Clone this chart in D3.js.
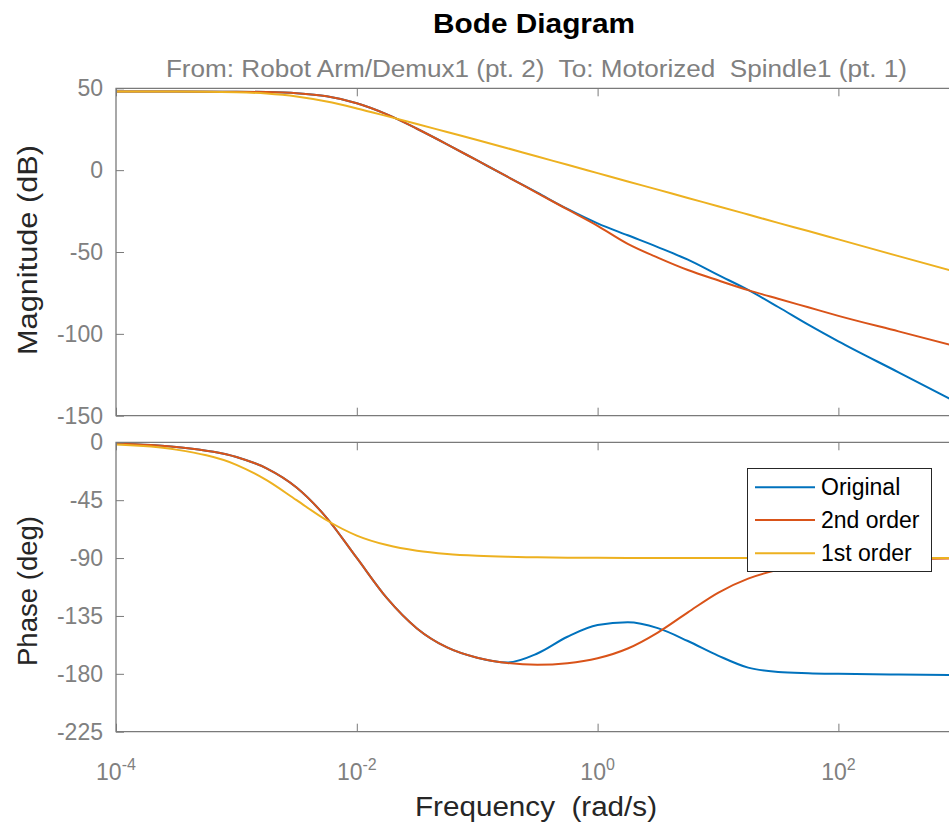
<!DOCTYPE html>
<html>
<head>
<meta charset="utf-8">
<script src="https://cdn.jsdelivr.net/npm/d3@7"></script>
<style>
  html, body { margin: 0; padding: 0; background: #fff; }
  text { font-family: "Liberation Sans", Arial, Helvetica, sans-serif; }
</style>
</head>
<body>
<script>
// ---------------- data ----------------
const frequencies = [1e-4, 3.16e-4, 1e-3, 1.78e-3, 3.16e-3, 5.62e-3, 0.01, 0.0178, 0.0316, 0.0562,
  0.1, 0.178, 0.316, 0.562, 1, 1.78, 3.16, 5.62, 10, 17.8, 31.6, 56.2, 100, 316, 1000];

const seriesNames = ["Original", "2nd order", "1st order"];
const seriesColors = ["#0072BD", "#D95319", "#EDB120"];

const magOriginal = [48.0, 48.0, 47.9, 47.7, 47.0, 45.1, 40.9, 34.1, 25.3, 15.8, 5.9, -4.0, -13.8,
  -23.7, -32.5, -39.8, -47.0, -54.7, -64.0, -73.2, -83.6, -94.4, -104.6, -123.5, -142.5];
const mag2nd = [48.0, 48.0, 47.9, 47.7, 47.0, 45.1, 40.9, 34.1, 25.3, 15.8, 5.9, -4.0, -14.0,
  -24.0, -34.0, -45.0, -53.4, -61.0, -67.3, -73.3, -78.6, -83.8, -89.0, -98.5, -108.0];
const mag1st = [48.0, 48.0, 47.6, 46.8, 45.0, 41.9, 37.7, 33.0, 28.2, 23.3, 18.4, 13.4, 8.3,
  3.3, -1.8, -6.9, -11.9, -17.0, -22.0, -27.1, -32.2, -37.2, -42.3, -52.5, -62.6];

const phaseOriginal = [-1.1, -3.6, -11.4, -20.2, -35.1, -58.7, -89.9, -121.2, -144.7, -159.5, -167.5,
  -171.2, -164.2, -151.2, -142.1, -140.0, -144.5, -154.5, -165.8, -175.2, -178.5, -179.5, -180.0, -180.6, -181.0];
const phase2nd = [-1.1, -3.6, -11.4, -20.2, -35.1, -58.7, -89.9, -121.2, -144.7, -159.5, -167.5,
  -171.6, -172.9, -171.7, -167.9, -160.3, -147.9, -132.2, -117.0, -106.0, -99.2, -95.2, -92.9, -90.9, -90.3];
const phase1st = [-1.8, -5.7, -17.5, -29.4, -45.0, -60.6, -72.5, -79.9, -84.3, -86.8, -88.2, -89.0,
  -89.4, -89.7, -89.8, -89.9, -89.9, -90.0, -90.0, -90.0, -90.0, -90.0, -90.0, -90.0, -90.0];

const xTickValues = [1e-4, 1e-2, 1, 1e2];
const xTickExponents = ["-4", "-2", "0", "2"];
const magTicks = [50, 0, -50, -100, -150];
const phaseTicks = [0, -45, -90, -135, -180, -225];

const titleText = "Bode Diagram";
const subtitleText = "From: Robot Arm/Demux1 (pt. 2)  To: Motorized  Spindle1 (pt. 1)";
const xLabelText = "Frequency  (rad/s)";
const magLabelText = "Magnitude (dB)";
const phaseLabelText = "Phase (deg)";

// ---------------- layout ----------------
const W = 949, H = 824;
const axisColor = "#7a7a7a", tickTextColor = "#808080", labelColor = "#262626";

const svg = d3.select("body").append("svg").attr("width", W).attr("height", H);

const x = d3.scaleLog().domain([1e-4, 1e3]).range([116, 958.8]);
const yMag = d3.scaleLinear().domain([-150, 50]).range([415.7, 88.3]);
const yPh = d3.scaleLinear().domain([-225, 0]).range([731.7, 442.3]);

const panels = [
  { y: yMag, ticks: magTicks, series: [magOriginal, mag2nd, mag1st], id: "mag" },
  { y: yPh, ticks: phaseTicks, series: [phaseOriginal, phase2nd, phase1st], id: "ph" }
];

panels.forEach((p, pi) => {
  const [yb, yt] = p.y.range();
  const g = svg.append("g");
  svg.append("clipPath").attr("id", "clip-" + p.id)
    .append("rect").attr("x", x.range()[0]).attr("y", yt)
    .attr("width", x.range()[1] - x.range()[0]).attr("height", yb - yt);

  const line = d3.line()
    .x((d, i) => x(frequencies[i]))
    .y(d => p.y(d))
    .curve(d3.curveMonotoneX);
  const lg = g.append("g").attr("clip-path", "url(#clip-" + p.id + ")");
  p.series.forEach((s, si) => {
    lg.append("path").attr("d", line(s)).attr("fill", "none")
      .attr("stroke", seriesColors[si]).attr("stroke-width", 2)
      .attr("stroke-linejoin", "round");
  });

  const la = g.append("g").attr("transform", `translate(${x.range()[0]},0)`)
    .call(d3.axisLeft(p.y).tickValues(p.ticks).tickSizeInner(-8).tickSizeOuter(0).tickPadding(13)
      .tickFormat(d => String(d)));
  la.select(".domain").remove();
  la.selectAll(".tick line").attr("stroke", axisColor);
  la.selectAll(".tick text").attr("fill", tickTextColor).attr("font-size", 23)
    .attr("font-family", '"Liberation Sans", Arial, sans-serif');

  const ta = g.append("g").attr("transform", `translate(0,${yt})`)
    .call(d3.axisTop(x).tickValues(xTickValues).tickSizeInner(-8).tickSizeOuter(0).tickFormat(() => ""));
  ta.select(".domain").remove();
  ta.selectAll(".tick line").attr("stroke", axisColor);
  const ba = g.append("g").attr("transform", `translate(0,${yb})`)
    .call(d3.axisBottom(x).tickValues(xTickValues).tickSizeInner(-8).tickSizeOuter(0).tickFormat(() => ""));
  ba.select(".domain").remove();
  ba.selectAll(".tick line").attr("stroke", axisColor);

  g.append("path")
    .attr("d", `M${x.range()[1]},${yt}H${x.range()[0]}V${yb}H${x.range()[1]}`)
    .attr("fill", "none").attr("stroke", axisColor).attr("stroke-width", 1.3);

  if (pi === 1) {
    xTickValues.forEach((v, i) => {
      const t = svg.append("text").attr("x", x(v)).attr("y", 780)
        .attr("text-anchor", "middle").attr("fill", tickTextColor).attr("font-size", 23);
      t.append("tspan").text("10");
      t.append("tspan").attr("font-size", 16).attr("dy", -10).text(xTickExponents[i]);
    });
  }
});

// legend
const lgX = 747.5, lgY = 468.5, lgW = 184, lgH = 103;
const leg = svg.append("g");
leg.append("rect").attr("x", lgX).attr("y", lgY).attr("width", lgW).attr("height", lgH)
  .attr("fill", "#fff").attr("stroke", "#262626").attr("stroke-width", 1);
const legRowY = [487.3, 520, 553.3];
seriesNames.forEach((n, i) => {
  leg.append("line").attr("x1", 755).attr("x2", 815).attr("y1", legRowY[i]).attr("y2", legRowY[i])
    .attr("stroke", seriesColors[i]).attr("stroke-width", 2);
  leg.append("text").attr("x", 821).attr("y", legRowY[i] + 8).attr("font-size", 23)
    .attr("fill", "#000").text(n);
});

// titles and labels
svg.append("text").attr("x", 534).attr("y", 33).attr("text-anchor", "middle")
  .attr("font-size", 27).attr("font-weight", "bold").attr("fill", "#000")
  .attr("textLength", 202).attr("lengthAdjust", "spacingAndGlyphs").text(titleText);
svg.append("text").attr("x", 536.4).attr("y", 76.5).attr("text-anchor", "middle")
  .attr("font-size", 23).attr("fill", tickTextColor).style("white-space", "pre")
  .attr("textLength", 741).attr("lengthAdjust", "spacingAndGlyphs").text(subtitleText);
svg.append("text").attr("x", 536).attr("y", 816).attr("text-anchor", "middle")
  .attr("font-size", 27).attr("fill", labelColor).style("white-space", "pre")
  .attr("textLength", 242).attr("lengthAdjust", "spacingAndGlyphs").text(xLabelText);
svg.append("text").attr("transform", "translate(37,250) rotate(-90)").attr("text-anchor", "middle")
  .attr("font-size", 27).attr("fill", labelColor)
  .attr("textLength", 210).attr("lengthAdjust", "spacingAndGlyphs").text(magLabelText);
svg.append("text").attr("transform", "translate(37,591) rotate(-90)").attr("text-anchor", "middle")
  .attr("font-size", 27).attr("fill", labelColor)
  .attr("textLength", 150).attr("lengthAdjust", "spacingAndGlyphs").text(phaseLabelText);
</script>
</body>
</html>
